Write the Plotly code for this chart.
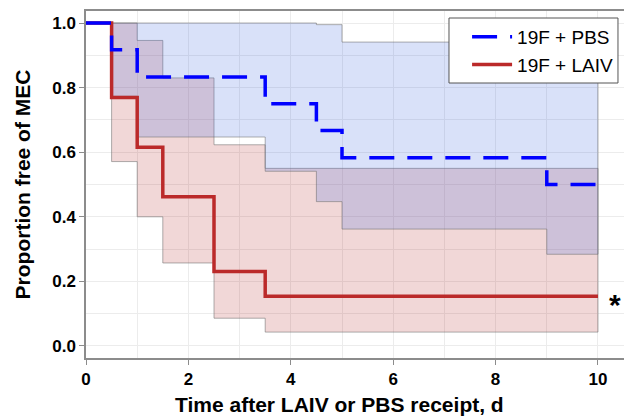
import plotly.graph_objects as go

# ---- data (Kaplan-Meier steps) ----
pbs_times = [0.0, 0.5, 1.0, 3.5, 4.5, 5.0, 9.0]
pbs_surv = [1.0, 0.917, 0.833, 0.750, 0.667, 0.583, 0.500]
pbs_ci_times = [0.5, 1.0, 3.5, 4.5, 5.0, 9.0]
pbs_upper = [1.0, 1.0, 1.0, 0.995, 0.941, 0.880]
pbs_lower = [0.773, 0.647, 0.541, 0.447, 0.362, 0.284]

laiv_times = [0.0, 0.5, 1.0, 1.5, 2.5, 3.5]
laiv_surv = [1.0, 0.769, 0.615, 0.462, 0.231, 0.154]
laiv_ci_times = [0.5, 1.0, 1.5, 2.5, 3.5]
laiv_upper = [1.0, 0.946, 0.830, 0.623, 0.550]
laiv_lower = [0.571, 0.400, 0.257, 0.086, 0.043]

end_time = 10.0
x_ticks = [0, 2, 4, 6, 8, 10]
y_ticks = [0.0, 0.2, 0.4, 0.6, 0.8, 1.0]
y_tick_labels = ["0.0", "0.2", "0.4", "0.6", "0.8", "1.0"]

FONT = "Liberation Sans, Arial, Helvetica, sans-serif"


def step_path(times, vals, t_end):
    xs, ys = [], []
    for i, (t, v) in enumerate(zip(times, vals)):
        xs.append(t)
        ys.append(v)
        nxt = times[i + 1] if i + 1 < len(times) else t_end
        xs.append(nxt)
        ys.append(v)
    return xs, ys


def band_polygon(times, upper, lower, t_end):
    ux, uy = step_path(times, upper, t_end)
    lx, ly = step_path(times, lower, t_end)
    return ux + lx[::-1] + [ux[0]], uy + ly[::-1] + [uy[0]]


fig = go.Figure()

# confidence bands
bx, by = band_polygon(laiv_ci_times, laiv_upper, laiv_lower, end_time)
fig.add_trace(go.Scatter(x=bx, y=by, mode="lines", fill="toself",
                         fillcolor="rgba(178,34,34,0.18)",
                         line=dict(color="rgba(110,110,110,0.55)", width=1),
                         showlegend=False, hoverinfo="skip"))
bx, by = band_polygon(pbs_ci_times, pbs_upper, pbs_lower, end_time)
fig.add_trace(go.Scatter(x=bx, y=by, mode="lines", fill="toself",
                         fillcolor="rgba(65,105,225,0.20)",
                         line=dict(color="rgba(110,110,110,0.55)", width=1),
                         showlegend=False, hoverinfo="skip"))

# survival curves
fig.add_trace(go.Scatter(x=laiv_times + [end_time], y=laiv_surv + [laiv_surv[-1]],
                         mode="lines", line=dict(color="#BB2A2A", width=3.5, shape="hv"),
                         name="19F + LAIV", legendrank=2))
fig.add_trace(go.Scatter(x=pbs_times + [end_time], y=pbs_surv + [pbs_surv[-1]],
                         mode="lines",
                         line=dict(color="#0000FF", width=3.5, shape="hv", dash="25px,13px"),
                         name="19F + PBS", legendrank=1))

fig.add_annotation(x=end_time, y=laiv_surv[-1], xref="x", yref="y", text="<b>*</b>",
                   showarrow=False, xanchor="left", yanchor="middle", xshift=9, yshift=-8,
                   font=dict(family=FONT, size=30, color="black"))

# x-axis title (placed as annotation to match its horizontal position)
fig.add_annotation(x=0.472, y=-0.135, xref="paper", yref="paper",
                   text="Time after LAIV or PBS receipt, d", showarrow=False,
                   xanchor="center", yanchor="middle",
                   font=dict(family=FONT, size=21, color="black", weight="bold"))

# legend frame (white box behind the legend entries)
fig.add_shape(type="rect", xref="paper", yref="paper",
              x0=0.6747, x1=0.9888, y0=0.7925, y1=0.9798,
              fillcolor="white", line=dict(color="#555555", width=1), layer="above")

axis_common = dict(
    showline=True, linecolor="#8c8c8c", linewidth=1.5,
    ticks="outside", ticklen=5, tickcolor="#8c8c8c", tickwidth=1.2,
    showgrid=True, gridcolor="#ececec", gridwidth=1,
    zeroline=False,
    tickfont=dict(family=FONT, size=17, color="black", weight="bold"),
)

fig.update_xaxes(range=[0, 10.508], tickvals=x_ticks, mirror=True,
                 minor=dict(dtick=1, showgrid=True, gridcolor="#ececec", gridwidth=1),
                 **axis_common)
fig.update_yaxes(range=[-0.0372, 1.0372], tickvals=y_ticks, ticktext=y_tick_labels,
                 minor=dict(dtick=0.1, tick0=0, showgrid=True, gridcolor="#ececec", gridwidth=1),
                 title=dict(text="Proportion free of MEC", standoff=16,
                            font=dict(family=FONT, size=21, color="black", weight="bold")),
                 **axis_common)

fig.update_layout(
    width=624, height=417,
    margin=dict(l=86, r=0, t=11, b=59, autoexpand=False),
    plot_bgcolor="white", paper_bgcolor="white",
    legend=dict(x=0.989, xanchor="right", y=0.98, yanchor="top",
                bgcolor="rgba(0,0,0,0)", borderwidth=0,
                itemwidth=40,
                font=dict(family=FONT, size=19, color="black")),
)

fig.write_html("out.html", config={"displayModeBar": False},
               post_script="document.body.style.margin='0';document.body.style.padding='0';"
                           "document.body.style.overflow='hidden';")
